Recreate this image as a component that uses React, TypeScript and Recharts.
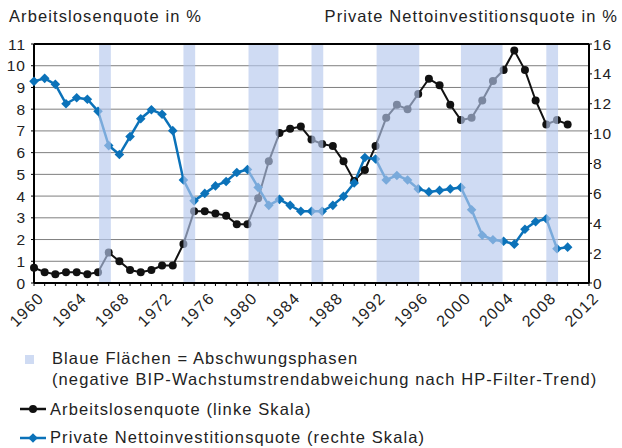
import React from "react";
import {
  LineChart,
  Line,
  XAxis,
  YAxis,
  CartesianGrid,
  ReferenceArea,
  ReferenceLine,
} from "recharts";

const years = [
  1960, 1961, 1962, 1963, 1964, 1965, 1966, 1967, 1968, 1969, 1970, 1971, 1972,
  1973, 1974, 1975, 1976, 1977, 1978, 1979, 1980, 1981, 1982, 1983, 1984, 1985,
  1986, 1987, 1988, 1989, 1990, 1991, 1992, 1993, 1994, 1995, 1996, 1997, 1998,
  1999, 2000, 2001, 2002, 2003, 2004, 2005, 2006, 2007, 2008, 2009, 2010,
];

const arbeitslosenquote = [
  0.7, 0.5, 0.4, 0.5, 0.5, 0.4, 0.5, 1.4, 1.0, 0.6, 0.5, 0.6, 0.8, 0.8, 1.8,
  3.3, 3.3, 3.2, 3.1, 2.7, 2.7, 3.9, 5.6, 6.9, 7.1, 7.2, 6.6, 6.4, 6.3, 5.6,
  4.7, 5.2, 6.3, 7.6, 8.2, 8.0, 8.7, 9.4, 9.1, 8.2, 7.5, 7.6, 8.4, 9.3, 9.8,
  10.7, 9.8, 8.4, 7.3, 7.5, 7.3,
];

const nettoinvestitionsquote = [
  13.5, 13.7, 13.3, 12.0, 12.4, 12.3, 11.5, 9.2, 8.6, 9.8, 11.0, 11.6, 11.3,
  10.2, 6.9, 5.5, 6.0, 6.5, 6.8, 7.4, 7.6, 6.4, 5.2, 5.6, 5.2, 4.8, 4.8, 4.8,
  5.2, 5.8, 6.7, 8.4, 8.3, 6.9, 7.2, 6.9, 6.3, 6.1, 6.2, 6.3, 6.4, 4.9, 3.2,
  2.9, 2.8, 2.6, 3.6, 4.1, 4.3, 2.3, 2.4,
];

const recessionStart = [1966.1, 1974.0, 1980.1, 1986.0, 1992.1, 2000.0, 2008.0];
const recessionEnd = [1967.2, 1975.1, 1982.9, 1987.1, 1996.1, 2003.9, 2009.1];

const xTicks: number[] = [];
for (let y = 1960; y <= 2012; y++) xTicks.push(y);
const leftTicks = [0, 1, 2, 3, 4, 5, 6, 7, 8, 9, 10, 11];
const rightTicks = [0, 2, 4, 6, 8, 10, 12, 14, 16];

const data = years.map((year, i) => ({
  year,
  al: arbeitslosenquote[i],
  inv: nettoinvestitionsquote[i],
}));

const BLACK = "#111111";
const BLUE = "#0b72b9";
const SHADE = "#b5c8ed";
const FONT = "'Liberation Sans', Arial, Helvetica, sans-serif";

const XTick = (props: any) => {
  const { x, y, payload } = props;
  const v = payload.value;
  if ((v - 1960) % 4 !== 0) return null;
  return (
    <text
      transform={`translate(${x + 11},${y + 11}) rotate(-45)`}
      textAnchor="end"
      fontSize={16}
      fontFamily={FONT}
      letterSpacing={1.3}
      fill="#222"
    >
      {v}
    </text>
  );
};

const CircleDot = (props: any) => {
  const { cx, cy, index } = props;
  if (cx == null || cy == null) return null;
  return <circle key={`c${index}`} cx={cx} cy={cy} r={4} fill={BLACK} />;
};

const DiamondDot = (props: any) => {
  const { cx, cy, index } = props;
  if (cx == null || cy == null) return null;
  const s = 4.8;
  return (
    <polygon
      key={`d${index}`}
      points={`${cx},${cy - s} ${cx + s},${cy} ${cx},${cy + s} ${cx - s},${cy}`}
      fill={BLUE}
    />
  );
};

const textStyle: React.CSSProperties = {
  position: "absolute",
  fontFamily: FONT,
  fontSize: 16.5,
  color: "#222",
  letterSpacing: 1.1,
  whiteSpace: "nowrap",
  lineHeight: "20px",
};

const tickStyle = { fill: "#222", fontSize: 15.5, fontFamily: FONT, letterSpacing: 1 };

export default function App() {
  return (
    <div
      style={{
        position: "absolute",
        left: 0,
        top: 0,
        width: 622,
        height: 448,
        background: "#fff",
        overflow: "hidden",
      }}
    >
      <div style={{ position: "absolute", left: 0, top: 0 }}>
        <LineChart
          width={622}
          height={448}
          data={data}
          margin={{ top: 44, right: 3, bottom: 125, left: 4 }}
        >
          <CartesianGrid
            vertical={false}
            stroke="#7f7f7f"
            strokeWidth={1}
            yAxisId="left"
          />
          <XAxis
            dataKey="year"
            type="number"
            domain={[1960, 2012]}
            ticks={xTicks}
            interval={0}
            height={40}
            tickSize={3}
            tickMargin={2}
            axisLine={{ stroke: "#000", strokeWidth: 2 }}
            tickLine={{ stroke: "#000" }}
            tick={<XTick />}
          />
          <YAxis
            yAxisId="left"
            orientation="left"
            domain={[0, 11]}
            ticks={leftTicks}
            interval={0}
            width={30}
            tickSize={3}
            tickMargin={5}
            axisLine={{ stroke: "#000", strokeWidth: 2 }}
            tickLine={{ stroke: "#000" }}
            tick={tickStyle}
          />
          <YAxis
            yAxisId="right"
            orientation="right"
            domain={[0, 16]}
            ticks={rightTicks}
            interval={0}
            width={30}
            tickSize={3}
            tickMargin={1}
            axisLine={{ stroke: "#000", strokeWidth: 2 }}
            tickLine={{ stroke: "#000" }}
            tick={tickStyle}
          />
          <Line
            yAxisId="left"
            dataKey="al"
            stroke={BLACK}
            strokeWidth={2}
            dot={<CircleDot />}
            activeDot={false}
            isAnimationActive={false}
          />
          <Line
            yAxisId="right"
            dataKey="inv"
            stroke={BLUE}
            strokeWidth={2.5}
            dot={<DiamondDot />}
            activeDot={false}
            isAnimationActive={false}
          />
        </LineChart>
      </div>

      {/* overlay layer: translucent downturn shading drawn on top of the series */}
      <div style={{ position: "absolute", left: 0, top: 0, pointerEvents: "none" }}>
        <LineChart
          width={622}
          height={448}
          data={data}
          margin={{ top: 44, right: 3, bottom: 125, left: 4 }}
          style={{ background: "transparent" }}
        >
          <XAxis
            dataKey="year"
            type="number"
            domain={[1960, 2012]}
            height={40}
            tick={false}
            tickLine={false}
            axisLine={false}
          />
          <YAxis
            yAxisId="left"
            orientation="left"
            domain={[0, 11]}
            width={30}
            tick={false}
            tickLine={false}
            axisLine={false}
          />
          <YAxis
            yAxisId="right"
            orientation="right"
            domain={[0, 16]}
            width={30}
            tick={false}
            tickLine={false}
            axisLine={false}
          />
          <Line
            yAxisId="left"
            dataKey="al"
            stroke="none"
            strokeOpacity={0}
            dot={false}
            activeDot={false}
            isAnimationActive={false}
          />
          {recessionStart.map((s, i) => (
            <ReferenceArea
              key={`r${i}`}
              yAxisId="left"
              x1={s}
              x2={recessionEnd[i]}
              y1={0}
              y2={11}
              fill={SHADE}
              fillOpacity={0.65}
              stroke="none"
              ifOverflow="visible"
            />
          ))}
          <ReferenceLine yAxisId="left" y={11} stroke="#000" strokeWidth={2} ifOverflow="visible" />
          <ReferenceLine yAxisId="left" y={0} stroke="#000" strokeWidth={2} ifOverflow="visible" />
        </LineChart>
      </div>

      <div style={{ ...textStyle, left: 9, top: 6 }}>
        Arbeitslosenquote in %
      </div>
      <div style={{ ...textStyle, right: 4, top: 6 }}>
        Private Nettoinvestitionsquote in %
      </div>

      <div style={{ position: "absolute", left: 25, top: 355, width: 9, height: 9, background: "#cfdbf3" }} />
      <div style={{ ...textStyle, left: 52, top: 348 }}>
        Blaue Flächen = Abschwungsphasen
      </div>
      <div style={{ ...textStyle, left: 52, top: 369 }}>
        (negative BIP-Wachstumstrendabweichung nach HP-Filter-Trend)
      </div>

      <svg style={{ position: "absolute", left: 18, top: 402 }} width={30} height={14}>
        <line x1={2} y1={7} x2={28} y2={7} stroke={BLACK} strokeWidth={2.5} />
        <circle cx={15} cy={7} r={4} fill={BLACK} />
      </svg>
      <div style={{ ...textStyle, left: 50, top: 399 }}>
        Arbeitslosenquote (linke Skala)
      </div>

      <svg style={{ position: "absolute", left: 18, top: 431 }} width={30} height={14}>
        <line x1={2} y1={7} x2={28} y2={7} stroke={BLUE} strokeWidth={2.5} />
        <polygon points="15,2.2 19.8,7 15,11.8 10.2,7" fill={BLUE} />
      </svg>
      <div style={{ ...textStyle, left: 50, top: 427 }}>
        Private Nettoinvestitionsquote (rechte Skala)
      </div>
    </div>
  );
}
